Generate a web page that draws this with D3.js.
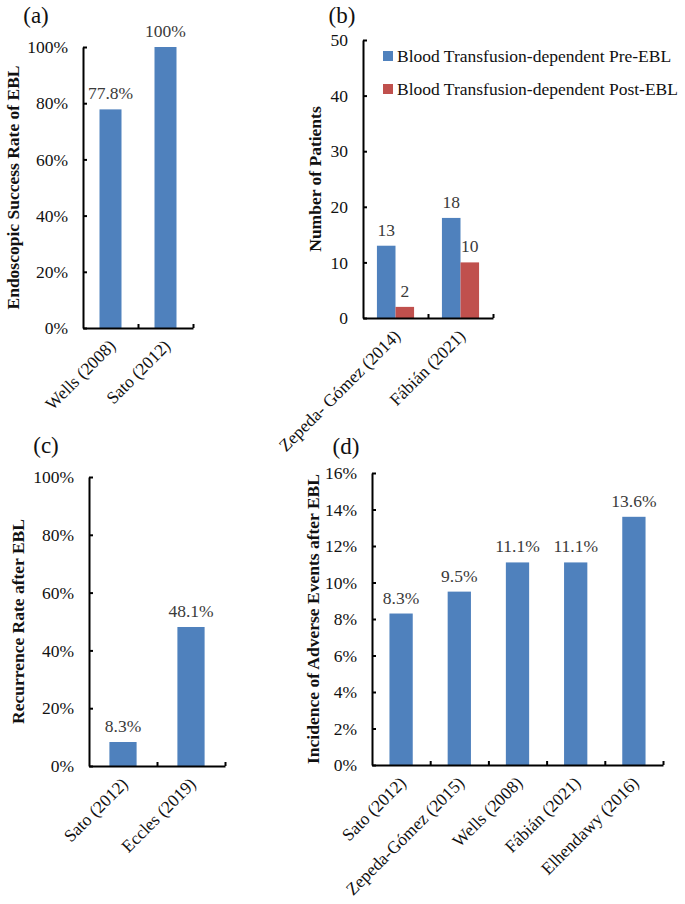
<!DOCTYPE html>
<html>
<head>
<meta charset="utf-8">
<script src="https://cdn.jsdelivr.net/npm/d3@7/dist/d3.min.js"></script>
<style>
  html, body { margin: 0; padding: 0; background: #fff; }
  svg { display: block; }
</style>
</head>
<body>
<svg id="chart" width="685" height="904"></svg>
<script>
// ---------- DATA ----------
const catsA = ["Wells (2008)", "Sato (2012)"];
const valsA = [0.778, 1.0];
const labelsA = ["77.8%", "100%"];
const ticksA = [0, 0.2, 0.4, 0.6, 0.8, 1.0];

const catsB = ["Zepeda- Gómez (2014)", "Fábián (2021)"];
const seriesB = ["Blood Transfusion-dependent Pre-EBL", "Blood Transfusion-dependent Post-EBL"];
const preB = [13, 18];
const postB = [2, 10];
const ticksB = [0, 10, 20, 30, 40, 50];

const catsC = ["Sato (2012)", "Eccles (2019)"];
const valsC = [0.083, 0.481];
const labelsC = ["8.3%", "48.1%"];
const ticksC = [0, 0.2, 0.4, 0.6, 0.8, 1.0];

const catsD = ["Sato (2012)", "Zepeda-Gómez (2015)", "Wells (2008)", "Fábián (2021)", "Elhendawy (2016)"];
const valsD = [0.083, 0.095, 0.111, 0.111, 0.136];
const labelsD = ["8.3%", "9.5%", "11.1%", "11.1%", "13.6%"];
const ticksD = [0, 0.02, 0.04, 0.06, 0.08, 0.10, 0.12, 0.14, 0.16];

const BLUE = "#4F81BD", RED = "#C0504D";
const FONT = "'Liberation Serif', 'Times New Roman', serif";
const FS = 17.5;
const svg = d3.select("#chart").attr("font-family", FONT);

function panel(cfg) {
  const g = svg.append("g");
  const n = cfg.cats.length;
  const x = d3.scaleBand().domain(cfg.cats).range([cfg.x0, cfg.x1]).paddingInner(0).paddingOuter(0);
  const y = d3.scaleLinear().domain(cfg.domain).range([cfg.y0, cfg.yTop]);

  // bars
  const nSeries = cfg.series.length;
  const barW = x.step() / (nSeries + 1.5);
  cfg.series.forEach((s, si) => {
    const offset = (x.step() - nSeries * barW) / 2 + si * barW;
    g.selectAll(null).data(s.values).enter().append("rect")
      .attr("x", (d, i) => x(cfg.cats[i]) + offset)
      .attr("y", d => y(d))
      .attr("width", barW)
      .attr("height", d => y(0) - y(d))
      .attr("fill", s.color);
    g.selectAll(null).data(s.values).enter().append("text")
      .attr("x", (d, i) => x(cfg.cats[i]) + offset + barW / 2)
      .attr("y", d => y(d) - 10)
      .attr("text-anchor", "middle")
      .attr("font-family", FONT)
      .attr("font-size", FS)
      .attr("fill", "#3a3a3a")
      .text((d, i) => s.labels[i]);
  });

  // y axis
  const ya = g.append("g").attr("transform", `translate(${cfg.x0},0)`)
    .call(d3.axisLeft(y).tickValues(cfg.ticks).tickFormat(cfg.fmt)
      .tickSizeInner(-4).tickSizeOuter(0).tickPadding(15));
  ya.attr("font-family", FONT).attr("font-size", FS);
  ya.selectAll("path, line").attr("stroke", "#000").attr("stroke-width", 2);
  ya.selectAll("text").attr("fill", "#111");

  // x axis with ticks at category boundaries
  const xb = d3.scaleLinear().domain([0, n]).range([cfg.x0, cfg.x1]);
  const xa = g.append("g").attr("transform", `translate(0,${cfg.y0})`)
    .call(d3.axisBottom(xb).tickValues(d3.range(1, n + 1)).tickFormat("")
      .tickSizeInner(-4).tickSizeOuter(0));
  xa.selectAll("path, line").attr("stroke", "#000").attr("stroke-width", 2);

  // category labels
  g.selectAll(null).data(cfg.cats).enter().append("text")
    .attr("transform", d => `translate(${x(d) + x.bandwidth() / 2 + 6},${cfg.y0 + 19}) rotate(-45)`)
    .attr("text-anchor", "end")
    .attr("font-family", FONT)
    .attr("font-size", FS)
    .attr("fill", "#111")
    .text(d => d);

  // y title
  g.append("text")
    .attr("transform", `translate(${cfg.titleX},${(cfg.y0 + cfg.yTop) / 2}) rotate(-90)`)
    .attr("text-anchor", "middle")
    .attr("dy", "0.35em")
    .attr("font-family", FONT)
    .attr("font-size", FS)
    .attr("font-weight", "bold")
    .attr("fill", "#111")
    .text(cfg.title);

  // panel letter
  g.append("text")
    .attr("x", cfg.letterX).attr("y", cfg.letterY)
    .attr("text-anchor", "middle")
    .attr("font-family", FONT)
    .attr("font-size", 23)
    .attr("fill", "#111")
    .text(cfg.letter);
  return { g, x, y };
}

const pct = d3.format(".0%");

panel({
  cats: catsA, domain: [0, 1], ticks: ticksA, fmt: pct,
  x0: 83, x1: 193, y0: 328, yTop: 47,
  series: [{ values: valsA, labels: labelsA, color: BLUE }],
  title: "Endoscopic Success Rate of EBL", titleX: 13,
  letter: "(a)", letterX: 36, letterY: 23
});

const pb = panel({
  cats: catsB, domain: [0, 50], ticks: ticksB, fmt: d3.format("d"),
  x0: 363, x1: 493, y0: 318, yTop: 40,
  series: [
    { values: preB, labels: preB.map(String), color: BLUE },
    { values: postB, labels: postB.map(String), color: RED }
  ],
  title: "Number of Patients", titleX: 315,
  letter: "(b)", letterX: 342, letterY: 23
});

// legend for (b)
const legend = pb.g.append("g");
[BLUE, RED].forEach((c, i) => {
  legend.append("rect").attr("x", 383).attr("y", 51 + i * 33).attr("width", 10).attr("height", 10).attr("fill", c);
  legend.append("text").attr("x", 397).attr("y", 62 + i * 33)
    .attr("font-family", FONT)
    .attr("font-size", FS).attr("fill", "#111").text(seriesB[i]);
});

panel({
  cats: catsC, domain: [0, 1], ticks: ticksC, fmt: pct,
  x0: 89, x1: 225, y0: 766, yTop: 477,
  series: [{ values: valsC, labels: labelsC, color: BLUE }],
  title: "Recurrence Rate after EBL", titleX: 18,
  letter: "(c)", letterX: 46, letterY: 453
});

panel({
  cats: catsD, domain: [0, 0.16], ticks: ticksD, fmt: pct,
  x0: 372, x1: 663, y0: 765, yTop: 473,
  series: [{ values: valsD, labels: labelsD, color: BLUE }],
  title: "Incidence of Adverse Events after EBL", titleX: 313,
  letter: "(d)", letterX: 346, letterY: 454
});
</script>
</body>
</html>
